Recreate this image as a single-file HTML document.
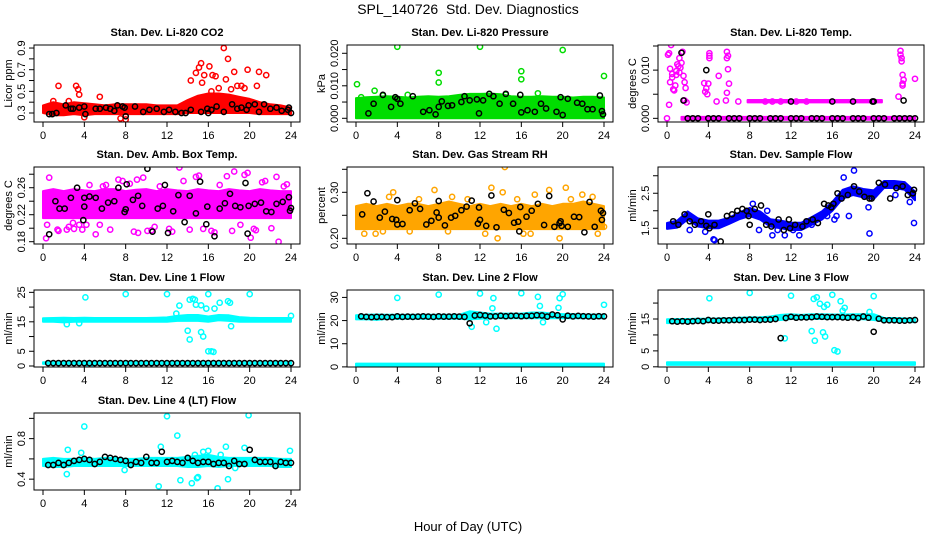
<!DOCTYPE html>
<html><head><meta charset="utf-8">
<style>
html,body{margin:0;padding:0;background:#fff;}
svg{display:block;font-family:"Liberation Sans",Arial,sans-serif;}
</style></head>
<body>
<svg id="chart" width="936" height="540" viewBox="0 0 936 540" xmlns="http://www.w3.org/2000/svg">
<text x="468" y="14" text-anchor="middle" font-size="14">SPL_140726&#160; Std. Dev. Diagnostics</text>
<text x="468" y="531" text-anchor="middle" font-size="13">Hour of Day (UTC)</text>
</svg>
<script>
// ---------- shared ----------
const hourTicks=[0,4,8,12,16,20,24];
const halfHours=[0.5,1,1.5,2,2.5,3,3.5,4,4.5,5,5.5,6,6.5,7,7.5,8,8.5,9,9.5,10,10.5,11,11.5,12,12.5,13,13.5,14,14.5,15,15.5,16,16.5,17,17.5,18,18.5,19,19.5,20,20.5,21,21.5,22,22.5,23,23.5,24];
const bandHours=[0,1,2,3,4,5,6,7,8,9,10,11,12,13,14,15,16,17,18,19,20,21,22,23,24];

// ---------- P1 CO2 ----------
const co2Lo=[0.30,0.28,0.28,0.29,0.28,0.29,0.29,0.29,0.29,0.29,0.29,0.29,0.29,0.29,0.30,0.30,0.30,0.30,0.30,0.30,0.30,0.29,0.29,0.29,0.29];
const co2Hi=[0.37,0.40,0.38,0.40,0.39,0.38,0.37,0.38,0.38,0.38,0.38,0.37,0.37,0.37,0.42,0.46,0.48,0.48,0.47,0.45,0.43,0.40,0.38,0.37,0.35];
const co2OutX=[1.5,3.2,3.4,3.5,5.5,14.3,14.8,15.1,15.3,15.6,16.1,16.4,16.7,17.5,17.7,17.9,18.5,19.2,19.8,20.9,21.6,15.4,17.0,18.8,19.5,20.7,16.3,18.2,4.0,7.5,8.0,1.0,2.5];
const co2OutY=[0.55,0.55,0.52,0.47,0.45,0.60,0.67,0.72,0.76,0.65,0.73,0.65,0.64,0.90,0.61,0.80,0.68,0.55,0.70,0.68,0.65,0.58,0.53,0.55,0.53,0.55,0.50,0.52,0.26,0.25,0.24,0.41,0.41];
const co2BlkX=[0.6,0.9,1.3,2.2,2.7,2.9,3.5,4,4.1,5.1,5.5,6.1,6.5,6.9,7.2,7.7,7.9,8,8.9,9.7,10.3,11,11.7,12.2,12.8,13.4,13.8,14.3,15.3,15.9,16,16.3,16.8,17.5,18.3,18.8,19.2,19.7,19.9,20.5,20.9,21.4,22,22.6,23.1,23.7,23.8,24];
const co2BlkY=[0.29,0.29,0.30,0.37,0.34,0.34,0.35,0.36,0.29,0.34,0.34,0.35,0.34,0.32,0.37,0.36,0.35,0.27,0.36,0.31,0.33,0.34,0.31,0.33,0.31,0.30,0.30,0.33,0.31,0.34,0.30,0.33,0.36,0.31,0.38,0.34,0.35,0.33,0.37,0.38,0.31,0.38,0.34,0.35,0.32,0.33,0.35,0.30];

// ---------- P2 Pressure ----------
const prsLo=[0,0,0,0,0,0,0,0,0,0,0,0,0,0,0,0,0,0,0,0,0,0,0,0,0];
const prsHi=[0.0062,0.0065,0.0066,0.0068,0.0066,0.0064,0.0066,0.0068,0.0066,0.0068,0.0072,0.0075,0.0075,0.0076,0.0074,0.0068,0.0066,0.0066,0.0068,0.0066,0.0066,0.0064,0.0066,0.0066,0.0064];
const prsOutX=[0.1,1.8,4,8,8,12,16,16,20,24,0.5,5,17.6,2.6,14.5];
const prsOutY=[0.0105,0.0085,0.022,0.014,0.011,0.022,0.0145,0.012,0.021,0.013,0.0065,0.0072,0.0077,0.0070,0.0073];
const prsBlkX=[1.2,1.7,2.6,3.4,3.8,4,4.3,5.5,6.5,7.1,7.7,8,8.3,8.9,9.3,10.2,10.5,11,11.7,11.9,12.3,12.9,13.3,13.9,14.5,15.2,15.9,16,16.6,17.3,17.9,18.4,19.4,19.8,20,20.5,21.4,21.9,22.4,22.9,23.6,23.8,23.9];
const prsBlkY=[0.0015,0.0045,0.0072,0.0035,0.0065,0.0060,0.0045,0.0068,0.0020,0.0025,0.0012,0.0035,0.0052,0.0038,0.0040,0.0050,0.0068,0.0055,0.0058,0.0015,0.0055,0.0075,0.0068,0.0045,0.0075,0.0045,0.0072,0.0018,0.0025,0.0020,0.0045,0.0030,0.0020,0.0065,0.0010,0.0060,0.0048,0.0045,0.0028,0.0028,0.0070,0.0022,0.0012];

// ---------- P3 Li-820 Temp ----------
const tmpBandX=[1.4,24];
const tmpBandLo=[-0.0003,-0.0003];
const tmpBandHi=[0.0003,0.0003];
const tmpBand2X=[7.8,20.8];
const tmpBand2Lo=[0.0033,0.0033];
const tmpBand2Hi=[0.0038,0.0038];
const tmpOutX=[0.2,0.4,0.3,0.5,0.3,0.6,0.7,0.8,0.5,0.9,1.0,1.2,1.3,1.5,1.2,1.6,1.7,1.8,1.7,1.9,0.2,0,3.6,3.8,3.7,3.9,4.1,4.1,4.1,4.0,5.0,5.8,5.9,5.8,5.9,6.0,5.8,5.7,6.9,4.8,22.4,22.6,22.6,22.7,22.7,22.8,22.9,22.8,22.8,24,9.5,10.2,11,12.5,13.5,0.1,0.9,1.1,1.4];
const tmpOutY=[0.0135,0.0152,0.0103,0.0092,0.0075,0.0060,0.0058,0.0068,0.0085,0.0090,0.0112,0.0125,0.0105,0.0138,0.0095,0.0088,0.0075,0.0063,0.0037,0.0033,0.0028,0,0.0073,0.0062,0.0055,0.0050,0.0135,0.0130,0.0125,0.0072,0.0088,0.0138,0.0130,0.0125,0.0102,0.0072,0.0053,0.0037,0.0035,0.0035,0.0045,0.0140,0.0132,0.0125,0.0118,0.0090,0.0080,0.0072,0.0068,0.0082,0.0035,0.0035,0.0035,0.0035,0.0035,0.0132,0.0098,0.0108,0.0115];
const tmpBlkX=[1.4,3.8,1.6,22.9,2,3,4,5,6,7,8,9,10,11,12,13,14,15,16,17,18,19,20,21,22,23,24,2.5,4.5,6.5,8.5,10.5,12.5,14.5,16.5,18.5,20.5,22.5,12,16,18,19.9,20,23.5];
const tmpBlkY=[0.0136,0.0100,0.0037,0.0037,0,0,0,0,0,0,0,0,0,0,0,0,0,0,0,0,0,0,0,0,0,0,0,0,0,0,0,0,0,0,0,0,0,0,0.0035,0.0035,0.0035,0.0035,0.0035,0];

// ---------- P4 Amb Box Temp ----------
const ambLo=[0.215,0.215,0.215,0.215,0.215,0.215,0.215,0.215,0.215,0.215,0.215,0.215,0.215,0.215,0.215,0.215,0.215,0.215,0.215,0.215,0.215,0.215,0.215,0.215,0.215];
const ambHi=[0.255,0.258,0.255,0.258,0.256,0.255,0.258,0.258,0.255,0.257,0.258,0.255,0.258,0.256,0.255,0.258,0.256,0.255,0.258,0.256,0.255,0.258,0.256,0.255,0.255];
const ambOutX=[0.3,0.6,1.5,2.5,3,3.8,4.5,5.1,5.8,6.5,7.3,8.4,9.2,9.7,10.1,11.3,12.2,13.2,14.8,15.5,16.3,17.1,18.3,19.5,20.1,20.4,21.2,22.1,22.8,23.3,0.4,2.3,3.5,5.5,7.7,9.1,10.5,12.5,13.6,15.1,16.6,17.8,18.5,19.1,20.6,22.6,1.4,4.2,8.8,10.8,14.2,19.8,21.5,23.6,2.9,6.1];
const ambOutY=[0.185,0.275,0.196,0.202,0.199,0.198,0.264,0.191,0.262,0.198,0.272,0.266,0.193,0.275,0.196,0.262,0.199,0.290,0.276,0.199,0.196,0.264,0.196,0.279,0.186,0.199,0.268,0.200,0.180,0.262,0.205,0.198,0.205,0.205,0.270,0.272,0.197,0.195,0.270,0.278,0.194,0.277,0.284,0.205,0.197,0.276,0.198,0.205,0.195,0.202,0.198,0.282,0.270,0.265,0.208,0.264];
const ambBlkX=[0.6,1.2,1.6,2.1,2.7,3.3,3.9,4,4,4.5,5.1,5.7,6.3,6.9,7.3,7.9,8,8.1,8.7,9.2,9.6,10.1,10.6,11.1,11.6,11.8,12.1,12.6,13.1,13.7,14.2,14.8,15.2,15.8,15.9,16.6,17.1,17.6,18.1,18.6,19.1,19.6,19.8,19.9,20.5,21.1,21.6,22.1,22.6,23.2,23.8,23.9,24];
const ambBlkY=[0.191,0.240,0.229,0.229,0.245,0.260,0.212,0.232,0.245,0.247,0.245,0.229,0.238,0.240,0.260,0.224,0.228,0.265,0.242,0.248,0.233,0.288,0.195,0.229,0.233,0.264,0.193,0.225,0.249,0.209,0.248,0.222,0.269,0.206,0.232,0.188,0.229,0.237,0.251,0.233,0.231,0.267,0.192,0.233,0.236,0.238,0.225,0.224,0.236,0.239,0.246,0.226,0.230];

// ---------- P5 Gas Stream RH ----------
const rhLo=[0.22,0.22,0.22,0.22,0.22,0.22,0.22,0.22,0.22,0.22,0.22,0.22,0.22,0.22,0.22,0.22,0.22,0.22,0.22,0.22,0.22,0.22,0.22,0.22,0.22];
const rhHi=[0.27,0.275,0.27,0.275,0.27,0.275,0.275,0.27,0.275,0.28,0.275,0.27,0.275,0.27,0.275,0.27,0.275,0.27,0.275,0.27,0.275,0.275,0.28,0.275,0.27];
const rhOutX=[0.8,3.2,3.6,7.6,13.1,14.2,14.4,15.6,16.2,18.7,19.7,20.3,20.8,21.9,23.4,1.9,5.2,6.1,9.3,10.8,12.5,13.7,16.9,17.3,22.9,24,2.6,8.9];
const rhOutY=[0.21,0.29,0.30,0.305,0.31,0.30,0.355,0.285,0.21,0.305,0.20,0.31,0.285,0.295,0.21,0.21,0.215,0.285,0.29,0.285,0.21,0.20,0.21,0.295,0.29,0.225,0.215,0.215];
const rhBlkX=[0.6,1.1,1.7,2.3,2.8,3.5,3.9,4,4,4.5,5.2,5.7,6.2,6.8,7.3,7.8,8,8,8.6,9.2,9.6,10.2,10.7,11.2,11.8,11.9,12,12.6,13.1,13.6,14.3,14.8,15.3,15.7,15.8,15.9,16.5,17,17.6,18.2,18.7,19.2,19.7,19.8,19.9,20.5,21.1,21.6,22.1,22.6,23.1,23.7,23.8,23.9];
const rhBlkY=[0.252,0.298,0.280,0.245,0.258,0.242,0.240,0.283,0.230,0.231,0.261,0.276,0.264,0.230,0.238,0.256,0.245,0.281,0.228,0.245,0.249,0.261,0.269,0.282,0.232,0.267,0.240,0.227,0.293,0.224,0.262,0.255,0.234,0.236,0.215,0.268,0.247,0.260,0.275,0.229,0.292,0.225,0.233,0.237,0.227,0.225,0.247,0.246,0.213,0.279,0.225,0.260,0.240,0.255];

// ---------- P6 Sample Flow ----------
const sfLo=[1.48,1.52,1.75,1.55,1.5,1.5,1.62,1.76,1.85,1.75,1.55,1.5,1.45,1.45,1.6,1.75,2.0,2.35,2.45,2.38,2.33,2.65,2.65,2.6,2.3];
const sfHi=[1.65,1.72,1.98,1.78,1.72,1.72,1.8,1.95,2.08,1.98,1.76,1.72,1.66,1.66,1.82,1.98,2.25,2.6,2.7,2.62,2.58,2.85,2.85,2.82,2.55];
const sfOutX=[2.2,3.7,4.5,4.6,8.3,8.9,9.7,10.2,10.7,11.4,12.2,12.8,14,15.5,16.2,16.4,17.1,17.6,18.1,19.5,19.6,22.1,23.5,23.9];
const sfOutY=[1.45,1.4,1.18,1.16,2.2,1.45,2.0,1.3,1.45,1.3,1.45,1.3,1.6,1.85,1.75,1.85,2.95,1.85,3.15,2.1,1.35,2.45,2.25,1.65];
const sfBlkX=[0.6,1.1,1.7,2.2,2.7,3.3,3.8,4,4.1,4.6,5.2,5.8,6.3,6.8,7.3,7.7,7.9,8,8.5,9.1,9.6,10.1,10.8,11.3,11.8,11.9,12.4,13.1,13.5,14.1,14.6,15.2,15.6,15.9,16.1,16.5,16.9,17.5,18.1,18.6,19.1,19.6,19.8,20.5,21.1,21.6,22.2,22.8,23.3,23.8,23.9];
const sfBlkY=[1.7,1.6,1.9,1.7,1.6,1.7,1.57,1.9,1.5,1.6,1.12,1.85,1.9,2.0,2.05,2.0,1.85,1.6,2.05,2.15,1.6,1.55,1.75,1.45,1.75,1.5,1.6,1.55,1.7,1.75,1.65,2.2,2.15,2.1,2.2,2.5,2.35,2.45,2.7,2.55,2.4,2.35,2.35,2.8,2.75,2.35,2.65,2.7,2.45,2.5,2.6];

// ---------- P7 Line 1 ----------
const l1Lo=[15,15,14.8,15,15,15,15,15,15,15,15,15,15,15.3,15.3,15.3,15.0,15.5,15.3,15,15,15,15,15,15];
const l1Hi=[16.2,16.3,16.4,16.3,16.4,16.3,16.3,16.3,16.3,16.3,16.3,16.4,16.5,17,17.3,17.3,16.8,17.3,17.2,16.6,16.4,16.3,16.3,16.3,16.3];
const l1Lo2=[0.7,0.7,0.7,0.7,0.7,0.7,0.7,0.7,0.7,0.7,0.7,0.7,0.7,0.7,0.7,0.7,0.7,0.7,0.7,0.7,0.7,0.7,0.7,0.7,0.7];
const l1Hi2=[1.3,1.3,1.3,1.3,1.3,1.3,1.3,1.3,1.3,1.3,1.3,1.3,1.3,1.3,1.3,1.3,1.3,1.3,1.3,1.3,1.3,1.3,1.3,1.3,1.3];
const l1OutX=[4.1,8,12,16,20,13.2,14.2,14.5,14.7,14.8,15.3,15.8,16.6,17.1,17.9,18.1,14.0,14.2,15.5,15.3,16.0,16.3,16.5,12.9,18.2,24,4.5,3.5,2.3];
const l1OutY=[23.3,24.4,24.4,24.4,24.4,20.5,22.5,22.8,22.5,20.8,20.6,19.5,19.5,21.5,22.0,21.5,12.0,9.0,10.0,11.5,5.0,5.0,4.8,17.8,13.5,17.0,0.1,14.5,14.2];
const l1BlkY=[1,1,1,1,1,1,1,1,1,1,1,1,1,1,1,1,1,1,1,1,1,1,1,1,1,1,1,1,1,1,1,1,1,1,1,1,1,1,1,1,1,1,1,1,1,1,1,1];

// ---------- P8 Line 2 ----------
const l2Lo=[20.5,20.6,20.3,20.7,20.7,20.8,20.8,20.8,20.8,20.8,20.8,20.5,20.8,21,21,21,21,21,21,21,21,21,21,21,21];
const l2Hi=[22.3,22.5,22.6,22.5,22.5,22.5,22.5,22.5,22.5,22.5,22.5,24,23.5,23,23,23,23,23.5,23.5,23,22.8,22.8,22.6,22.6,22.5];
const l2Lo2=[0.3,0.3,0.3,0.3,0.3,0.3,0.3,0.3,0.3,0.3,0.3,0.3,0.3,0.3,0.3,0.3,0.3,0.3,0.3,0.3,0.3,0.3,0.3,0.3,0.3];
const l2Hi2=[1.4,1.4,1.4,1.4,1.4,1.4,1.4,1.4,1.4,1.4,1.4,1.4,1.4,1.4,1.4,1.4,1.4,1.4,1.4,1.4,1.4,1.4,1.4,1.4,1.4];
const l2OutX=[4,8,12,13.3,13.2,16,17.6,17.8,19.7,20,24,11.2,13.6,12.6,18.1,19.6];
const l2OutY=[29.8,31.2,31.7,29.7,25.3,31.8,30.2,26.3,29.7,31.4,26.8,17.3,16.5,19.3,19.3,25.5];
const l2BlkY=[21.8,21.6,21.5,21.6,21.6,21.5,21.5,21.8,21.6,21.7,21.6,21.7,21.8,21.7,21.6,21.8,21.7,21.7,21.8,21.7,21.6,18.8,22.2,22.4,22.2,21.8,21.8,22.1,21.9,22.0,22.1,21.9,22.0,22.0,22.3,22.2,21.7,22.6,22.3,20.5,22.1,21.8,22.0,21.9,21.8,21.7,21.9,21.8];

// ---------- P9 Line 3 ----------
const l3Lo=[13.7,13.8,13.9,14,14,14.1,14.1,14.2,14.3,14.3,14.5,14.7,15,15,15,15,15,15,15,14.9,14.7,14.3,14.2,14.1,14];
const l3Hi=[14.9,15,15,15.1,15.1,15.2,15.2,15.4,15.5,15.5,15.8,16.3,16.5,16.3,16.5,16.5,16.4,16.4,16.5,16.5,16.5,15.3,15.3,15.2,15.1];
const l3Lo2=[0.6,0.6,0.6,0.6,0.6,0.6,0.6,0.6,0.6,0.6,0.6,0.6,0.6,0.6,0.6,0.6,0.6,0.6,0.6,0.6,0.6,0.6,0.6,0.6,0.6];
const l3Hi2=[1.4,1.4,1.4,1.4,1.4,1.4,1.4,1.4,1.4,1.4,1.4,1.4,1.4,1.4,1.4,1.4,1.4,1.4,1.4,1.4,1.4,1.4,1.4,1.4,1.4];
const l3OutX=[4.1,8,12,14.2,14.5,14.8,15.5,16,16.8,17,14,14.3,15.1,15.3,16.2,16.5,20,15.2,11.4,17.2,19.6];
const l3OutY=[21.5,23.2,22.3,21.3,21.8,19.8,19.5,22.6,20.6,17.6,11.2,8.2,10.8,9.5,5.2,4.8,22.2,18.8,8.9,18.5,17.2];
const l3BlkY=[14.3,14.2,14.3,14.2,14.3,14.4,14.3,14.7,14.5,14.5,14.6,14.6,14.7,14.7,14.7,14.8,14.8,14.7,14.8,14.8,15.0,9.0,15.3,15.7,15.4,15.5,15.5,15.6,15.8,15.7,15.6,15.6,15.6,15.5,15.4,15.6,15.3,15.8,15.4,11.0,15.1,14.6,14.6,14.6,14.5,14.5,14.6,14.7];

// ---------- P10 Line 4 (LT) ----------
const l4Lo=[0.53,0.52,0.52,0.53,0.53,0.53,0.53,0.53,0.53,0.53,0.53,0.53,0.53,0.53,0.52,0.52,0.53,0.52,0.53,0.53,0.53,0.53,0.53,0.52,0.52];
const l4Hi=[0.60,0.61,0.60,0.60,0.61,0.60,0.61,0.61,0.60,0.60,0.61,0.61,0.61,0.61,0.62,0.63,0.64,0.62,0.61,0.61,0.61,0.61,0.61,0.60,0.60];
const l4OutX=[2.3,2.4,3.7,4,11.2,11.4,12,13,13.3,14.4,14.7,14.9,15.0,15.5,16,16.9,17.2,17.7,17.9,19.5,19.9,23.9,7.9,18.6];
const l4OutY=[0.45,0.69,0.66,0.92,0.33,0.72,1.02,0.83,0.39,0.36,0.64,0.41,0.42,0.67,0.68,0.31,0.64,0.72,0.40,0.71,1.03,0.68,0.49,0.51];
const l4BlkY=[0.54,0.54,0.56,0.54,0.56,0.58,0.59,0.60,0.59,0.55,0.57,0.62,0.61,0.60,0.59,0.58,0.54,0.57,0.56,0.62,0.56,0.56,0.67,0.57,0.58,0.57,0.56,0.61,0.58,0.56,0.57,0.57,0.55,0.56,0.56,0.53,0.58,0.55,0.55,0.69,0.59,0.57,0.57,0.57,0.53,0.57,0.56,0.56];

// ---------- panel config (layout only) ----------
const COLX=[34,347,658], ROWY=[45,167,290,413], PW=266, PH=77;
const panels=[
 {name:'co2',c:0,r:0,title:'Stan. Dev. Li-820 CO2',ylab:'Licor ppm',ymin:0.217,ymax:0.928,ticks:[0.3,0.4,0.5,0.6,0.7,0.8,0.9],tl:['0.3','','0.5','','0.7','','0.9'],col:'#ff0000',bands:[[bandHours,co2Lo,co2Hi]],ox:co2OutX,oy:co2OutY,bx:co2BlkX,by:co2BlkY},
 {name:'pressure',c:1,r:0,title:'Stan. Dev. Li-820 Pressure',ylab:'kPa',ymin:-0.00114,ymax:0.02255,ticks:[0,0.005,0.01,0.015,0.02],tl:['0.000','','0.010','','0.020'],col:'#00dd00',bands:[[bandHours,prsLo,prsHi]],ox:prsOutX,oy:prsOutY,bx:prsBlkX,by:prsBlkY},
 {name:'li820-temp',c:2,r:0,title:'Stan. Dev. Li-820 Temp.',ylab:'degrees C',ymin:-0.00076,ymax:0.01521,ticks:[0,0.005,0.01,0.015],tl:['0.000','','0.010',''],col:'#ff00ff',bands:[[tmpBandX,tmpBandLo,tmpBandHi],[tmpBand2X,tmpBand2Lo,tmpBand2Hi]],ox:tmpOutX,oy:tmpOutY,bx:tmpBlkX,by:tmpBlkY},
 {name:'amb-box-temp',c:0,r:1,title:'Stan. Dev. Amb. Box Temp.',ylab:'degrees C',ymin:0.1766,ymax:0.2907,ticks:[0.18,0.2,0.22,0.24,0.26,0.28],tl:['0.18','','0.22','','0.26',''],col:'#ff00ff',bands:[[bandHours,ambLo,ambHi]],ox:ambOutX,oy:ambOutY,bx:ambBlkX,by:ambBlkY},
 {name:'gas-rh',c:1,r:1,title:'Stan. Dev. Gas Stream RH',ylab:'percent',ymin:0.1876,ymax:0.355,ticks:[0.2,0.25,0.3,0.35],tl:['0.20','','0.30',''],col:'#ffa500',bands:[[bandHours,rhLo,rhHi]],ox:rhOutX,oy:rhOutY,bx:rhBlkX,by:rhBlkY},
 {name:'sample-flow',c:2,r:1,title:'Stan. Dev. Sample Flow',ylab:'ml/min',ymin:1.05,ymax:3.25,ticks:[1.5,2,2.5,3],tl:['1.5','','2.5',''],col:'#0000ff',bands:[[bandHours,sfLo,sfHi]],ox:sfOutX,oy:sfOutY,bx:sfBlkX,by:sfBlkY},
 {name:'line1-flow',c:0,r:2,title:'Stan. Dev. Line 1 Flow',ylab:'ml/min',ymin:-0.34,ymax:25.8,ticks:[0,5,10,15,20,25],tl:['0','5','','15','','25'],col:'#00ffff',bands:[[bandHours,l1Lo,l1Hi],[bandHours,l1Lo2,l1Hi2]],ox:l1OutX,oy:l1OutY,bx:halfHours,by:l1BlkY},
 {name:'line2-flow',c:1,r:2,title:'Stan. Dev. Line 2 Flow',ylab:'ml/min',ymin:-0.05,ymax:33.2,ticks:[0,10,20,30],tl:['0','10','20','30'],col:'#00ffff',bands:[[bandHours,l2Lo,l2Hi],[bandHours,l2Lo2,l2Hi2]],ox:l2OutX,oy:l2OutY,bx:halfHours,by:l2BlkY},
 {name:'line3-flow',c:2,r:2,title:'Stan. Dev. Line 3 Flow',ylab:'ml/min',ymin:-0.06,ymax:24.1,ticks:[0,5,10,15,20],tl:['0','5','','15',''],col:'#00ffff',bands:[[bandHours,l3Lo,l3Hi],[bandHours,l3Lo2,l3Hi2]],ox:l3OutX,oy:l3OutY,bx:halfHours,by:l3BlkY},
 {name:'line4-flow',c:0,r:3,title:'Stan. Dev. Line 4 (LT) Flow',ylab:'ml/min',ymin:0.293,ymax:1.053,ticks:[0.4,0.6,0.8,1.0],tl:['0.4','','0.8',''],col:'#00ffff',bands:[[bandHours,l4Lo,l4Hi]],ox:l4OutX,oy:l4OutY,bx:halfHours,by:l4BlkY}
];

const NS='http://www.w3.org/2000/svg';
const svg=document.getElementById('chart');
function mk(tag,attrs,parent,txt){const e=document.createElementNS(NS,tag);for(const k in attrs)e.setAttribute(k,attrs[k]);if(txt!==undefined)e.textContent=txt;parent.appendChild(e);return e;}

panels.forEach(p=>{
  const L=COLX[p.c],T=ROWY[p.r],B=T+PH,R=L+PW;
  const xs=v=>L+9+v*(PW-18)/24;
  const ys=v=>T+PH*(p.ymax-v)/(p.ymax-p.ymin);
  const g=mk('g',{},svg);
  
  
  const clip=mk('clipPath',{id:'clip-'+p.name},g);
  mk('rect',{x:L,y:T,width:PW,height:PH},clip);
  const data=mk('g',{'clip-path':'url(#clip-'+p.name+')'},g);
  
  
  p.bands.forEach(b=>{
    const [bx,lo,hi]=b;let pts=[];
    for(let i=0;i<bx.length;i++)pts.push(xs(bx[i]).toFixed(1)+','+ys(hi[i]).toFixed(1));
    for(let i=bx.length-1;i>=0;i--)pts.push(xs(bx[i]).toFixed(1)+','+ys(lo[i]).toFixed(1));
    const poly=mk('polygon',{points:pts.join(' '),fill:p.col,stroke:p.col,'stroke-width':2,'stroke-linejoin':'round'},data);
    
    
  });
  const n1=Math.min(p.ox.length,p.oy.length);
  for(let i=0;i<n1;i++){
    const c=mk('circle',{cx:xs(p.ox[i]).toFixed(1),cy:ys(p.oy[i]).toFixed(1),r:2.6,fill:'none',stroke:p.col,'stroke-width':1.5},data);
    
    
  }
  const n2=Math.min(p.bx.length,p.by.length);
  for(let i=0;i<n2;i++){
    const c=mk('circle',{cx:xs(p.bx[i]).toFixed(1),cy:ys(p.by[i]).toFixed(1),r:2.6,fill:'none',stroke:'#000','stroke-width':1.5},data);
    
    
  }
  const box=mk('rect',{x:L,y:T,width:PW,height:PH,fill:'none',stroke:'#000','stroke-width':1},g);
  
  
  const title=mk('text',{x:(L+R)/2,y:T-9,'text-anchor':'middle','font-size':11,'font-weight':'bold'},g,p.title);
  
  
  const xa=mk('g',{},g);
  
  
  mk('line',{x1:xs(0),x2:xs(24),y1:B,y2:B,stroke:'#000'},xa);
  hourTicks.forEach(h=>{
    mk('line',{x1:xs(h),x2:xs(h),y1:B,y2:B+5,stroke:'#000'},xa);
    const t=mk('text',{x:xs(h),y:B+17,'text-anchor':'middle','font-size':11},xa,String(h));
    
    
  });
  const ya=mk('g',{},g);
  
  
  mk('line',{x1:L,x2:L,y1:ys(p.ticks[0]),y2:ys(p.ticks[p.ticks.length-1]),stroke:'#000'},ya);
  p.ticks.forEach((v,i)=>{
    const y=ys(v);
    if(y<T-1||y>B+1)return;
    mk('line',{x1:L-5,x2:L,y1:y,y2:y,stroke:'#000'},ya);
    if(p.tl[i]){
      const t=mk('text',{x:L-9,y:y,'text-anchor':'middle','font-size':11,transform:'rotate(-90 '+(L-9)+' '+y+')'},ya,p.tl[i]);
      
      
    }
  });
  const yl=mk('text',{x:L-22,y:(T+B)/2,'text-anchor':'middle','font-size':11,transform:'rotate(-90 '+(L-22)+' '+((T+B)/2)+')'},g,p.ylab);
  
  
});
</script>
</body></html>
